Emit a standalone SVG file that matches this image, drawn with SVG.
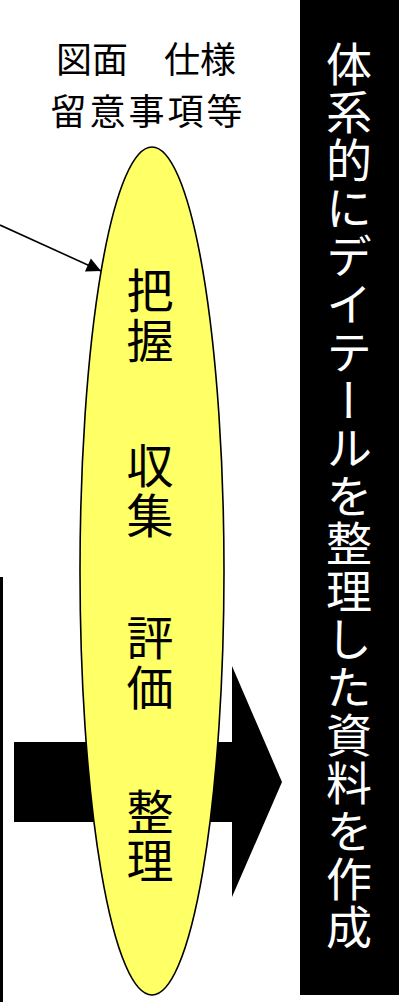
<svg xmlns="http://www.w3.org/2000/svg" width="405" height="1002" viewBox="0 0 405 1002">
<style>
.jp{font-family:"Noto Sans CJK JP","Noto Sans CJK SC",sans-serif;}
.lbl{font-size:36px;fill:#000;text-anchor:middle;}
.ell{font-size:47px;fill:#000;writing-mode:vertical-rl;}
.side{font-size:46px;fill:#fff;writing-mode:vertical-rl;}
</style>
<defs>
<marker id="ah" viewBox="0 0 10 10" refX="10" refY="5" markerWidth="11" markerHeight="9" orient="auto" markerUnits="strokeWidth">
<path d="M0,0 L10,5 L0,10 z" fill="#000"/>
</marker>
</defs>
<rect width="405" height="1002" fill="#fff"/>
<g id="bigarrow">
<polygon points="14,742 232,742 232,666 282,782 232,897 232,822 14,822" fill="#000"/>
</g>
<g id="leftbar">
<rect x="0" y="577" width="3" height="425" fill="#000"/>
</g>
<g id="ellipse-node">
<ellipse cx="152" cy="571" rx="72" ry="424" fill="#FFFF66" stroke="#000" stroke-width="1.6"/>
<text class="jp ell" x="150" y="267" letter-spacing="3">把握</text>
<text class="jp ell" x="150" y="442" letter-spacing="3">収集</text>
<text class="jp ell" x="150" y="614" letter-spacing="3">評価</text>
<text class="jp ell" x="150" y="788" letter-spacing="2">整理</text>
</g>
<g id="label">
<text class="jp lbl" x="146" y="73">図面　仕様</text>
<text class="jp lbl" x="148" y="125" letter-spacing="3">留意事項等</text>
</g>
<g id="side-box">
<rect x="300" y="0" width="99" height="995" fill="#000"/>
<text class="jp side" x="349" y="41" letter-spacing="1.9">体系的にデイテールを整理した資料を作成</text>
</g>
<g id="connectors">
<line x1="0" y1="225" x2="101" y2="271" stroke="#000" stroke-width="1.6" marker-end="url(#ah)"/>
</g>
</svg>
